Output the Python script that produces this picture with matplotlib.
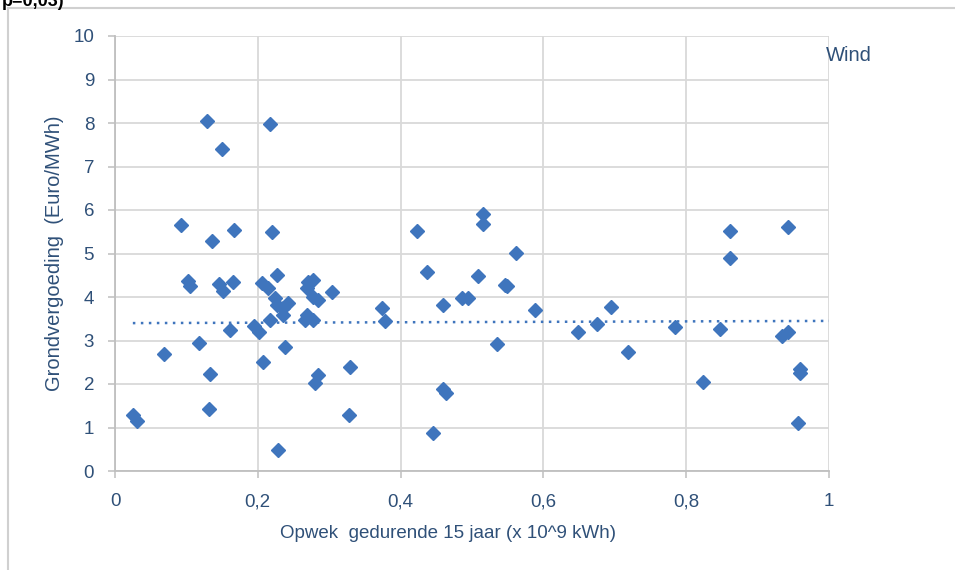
import matplotlib
matplotlib.use("Agg")
import matplotlib.pyplot as plt
from matplotlib.lines import Line2D

# Data
opwek = [0.025, 0.031, 0.069, 0.092, 0.102, 0.105, 0.118, 0.129, 0.133, 0.132,
         0.136, 0.150, 0.146, 0.151, 0.161, 0.167, 0.165, 0.195, 0.202, 0.207,
         0.206, 0.217, 0.220, 0.227, 0.214, 0.224, 0.227, 0.235, 0.242, 0.235,
         0.217, 0.238, 0.228, 0.270, 0.277, 0.269, 0.277, 0.284, 0.304, 0.269,
         0.266, 0.277, 0.284, 0.280, 0.329, 0.328, 0.374, 0.378, 0.423, 0.437,
         0.460, 0.459, 0.463, 0.445, 0.486, 0.494, 0.509, 0.515, 0.515, 0.535,
         0.546, 0.549, 0.562, 0.588, 0.648, 0.675, 0.695, 0.718, 0.784, 0.823,
         0.848, 0.862, 0.861, 0.942, 0.934, 0.943, 0.959, 0.960, 0.956]
vergoeding = [1.29, 1.15, 2.69, 5.66, 4.37, 4.25, 2.94, 8.05, 2.23, 1.43,
              5.29, 7.40, 4.30, 4.14, 3.24, 5.54, 4.34, 3.33, 3.20, 2.51,
              4.32, 7.98, 5.49, 4.50, 4.20, 3.98, 3.82, 3.74, 3.86, 3.59,
              3.47, 2.85, 0.48, 4.34, 4.39, 4.21, 4.00, 3.93, 4.12, 3.59,
              3.47, 3.47, 2.21, 2.02, 2.39, 1.29, 3.75, 3.45, 5.52, 4.57,
              3.82, 1.88, 1.79, 0.87, 3.98, 3.98, 4.48, 5.91, 5.68, 2.92,
              4.28, 4.25, 5.01, 3.70, 3.20, 3.38, 3.77, 2.74, 3.31, 2.05,
              3.26, 5.51, 4.90, 5.60, 3.10, 3.20, 2.34, 2.25, 1.10]

trend_x = [0.025, 1.0]
trend_y = [3.40, 3.45]

x_ticks = [0, 0.2, 0.4, 0.6, 0.8, 1.0]
x_labels = ["0", "0,2", "0,4", "0,6", "0,8", "1"]
y_ticks = list(range(0, 11))

text_col = "#2f5078"
marker_col = "#3f75bd"
grid_col = "#d9d9d9"

plt.rcParams['font.family'] = ['Liberation Sans', 'DejaVu Sans']

fig = plt.figure(figsize=(9.55, 5.7), dpi=100)
ax = fig.add_axes([115 / 955, 1 - 471 / 570, (829 - 115) / 955, (471 - 36) / 570])

ax.plot(opwek, vergoeding, linestyle='none', marker='D', ms=7.3,
        color=marker_col, markeredgecolor=marker_col, zorder=3)
ax.plot(trend_x, trend_y, linestyle=(0, (1, 2.2)), color=marker_col, lw=1.8, zorder=2)

ax.set_xlim(0, 1)
ax.set_ylim(0, 10)
ax.set_xticks(x_ticks)
ax.set_xticklabels(x_labels)
ax.set_yticks(y_ticks)
ax.grid(True, color=grid_col, lw=1.3, zorder=0)
ax.set_axisbelow(True)

for s in ['top', 'right']:
    ax.spines[s].set_visible(False)
for s in ['left', 'bottom']:
    ax.spines[s].set_color('#bfbfbf')
    ax.spines[s].set_linewidth(1.3)

ax.tick_params(axis='both', colors='#bfbfbf', labelcolor=text_col, labelsize=13.5,
               length=5, width=1.1, direction='out')
ax.tick_params(axis='x', pad=11)
ax.tick_params(axis='y', pad=10)

ax.set_xlabel("Opwek  gedurende 15 jaar (x 10^9 kWh)", color=text_col, fontsize=13.5)
ax.xaxis.set_label_coords(0.466, -0.125)
ax.set_ylabel("Grondvergoeding  (Euro/MWh)", color=text_col, fontsize=14.5, labelpad=7)

ax.text(0.995, 9.55, "Wind", color=text_col, fontsize=14.5, ha='left', va='center',
        transform=ax.transData, clip_on=False)

# Outer frame lines
fig.add_artist(Line2D([8 / 955, 8 / 955], [0, 1 - 8 / 570], color='#d0d0d0', lw=1.5,
                      transform=fig.transFigure))
fig.add_artist(Line2D([8 / 955, 1], [1 - 8 / 570, 1 - 8 / 570], color='#d0d0d0', lw=1.5,
                      transform=fig.transFigure))

# Cropped title remnant at the top edge
fig.text(0.002, 1 - 1 / 570, "p=0,03)", fontsize=13, fontweight='bold', color='black',
         ha='left', va='center')

fig.savefig("out.png", dpi=100)
